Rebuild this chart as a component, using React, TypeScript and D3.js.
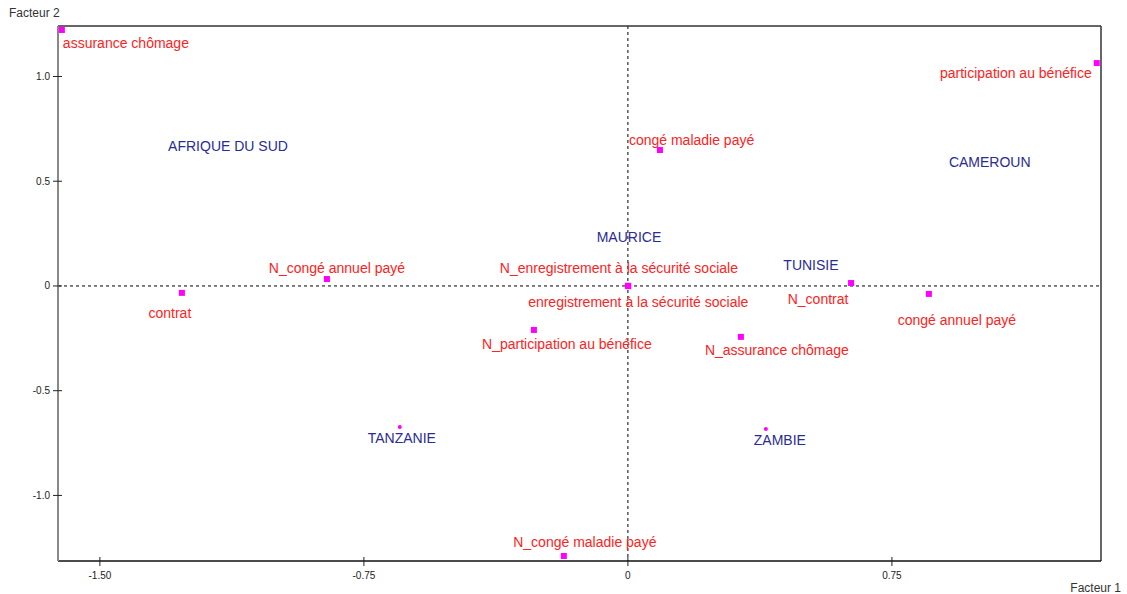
import React from "react";
import * as d3 from "d3";

// Correspondence analysis map: factor 1 (x) vs factor 2 (y)
const modalityNames = [
  "assurance chômage",
  "participation au bénéfice",
  "congé maladie payé",
  "N_congé annuel payé",
  "contrat",
  "N_enregistrement à la sécurité sociale",
  "enregistrement à la sécurité sociale",
  "N_participation au bénéfice",
  "N_contrat",
  "congé annuel payé",
  "N_assurance chômage",
  "N_congé maladie payé",
];
const modalityF1 = [-1.608, 1.332, 0.091, -0.855, -1.267, 0.0, 0.001, -0.267, 0.634, 0.855, 0.321, -0.182];
const modalityF2 = [1.222, 1.064, 0.649, 0.033, -0.033, 0.001, -0.001, -0.21, 0.014, -0.038, -0.243, -1.289];

const countryNames = ["AFRIQUE DU SUD", "CAMEROUN", "MAURICE", "TUNISIE", "TANZANIE", "ZAMBIE"];
const countryF1 = [-1.136, 1.028, 0.003, 0.52, -0.648, 0.392];
const countryF2 = [0.668, 0.592, 0.234, 0.1, -0.673, -0.683];

const xTicks = [-1.5, -0.75, 0, 0.75];
const xTickLabels = ["-1.50", "-0.75", "0", "0.75"];
const yTicks = [1.0, 0.5, 0, -0.5, -1.0];
const yTickLabels = ["1.0", "0.5", "0", "-0.5", "-1.0"];

// label placement relative to each marker (pixels)
const modalityLabelLayout: { anchor: string; dx: number; dy: number }[] = [
  { anchor: "start", dx: 1, dy: 18 },
  { anchor: "end", dx: -5, dy: 15 },
  { anchor: "start", dx: -31, dy: -5 },
  { anchor: "middle", dx: 10, dy: -6 },
  { anchor: "middle", dx: -12, dy: 25 },
  { anchor: "middle", dx: -9, dy: -13 },
  { anchor: "middle", dx: 10, dy: 21 },
  { anchor: "middle", dx: 33, dy: 19 },
  { anchor: "middle", dx: -33, dy: 21 },
  { anchor: "middle", dx: 28, dy: 31 },
  { anchor: "middle", dx: 36, dy: 18 },
  { anchor: "middle", dx: 21, dy: -9 },
];
const countryLabelLayout: { dx: number; dy: number; dot: boolean }[] = [
  { dx: 0, dy: 5, dot: false },
  { dx: 0, dy: 5, dot: false },
  { dx: 0, dy: 5, dot: false },
  { dx: 0, dy: 5, dot: false },
  { dx: 2, dy: 16, dot: true },
  { dx: 14, dy: 16, dot: true },
];

const W = 1127;
const H = 594;
const left = 58;
const right = 1101;
const top = 26;
const bottom = 561;

const FONT = "'Liberation Sans', Arial, sans-serif";
const RED = "#ff2222";
const NAVY = "#2b2b94";
const MAGENTA = "#ff00ff";

export default function App() {
  const x = d3.scaleLinear().domain([-1.619, 1.344]).range([left, right]);
  const y = d3.scaleLinear().domain([-1.313, 1.241]).range([bottom, top]);

  return (
    <svg
      width={W}
      height={H}
      style={{ position: "absolute", left: 0, top: 0, background: "#fff" }}
      fontFamily={FONT}
    >
      {/* origin reference lines */}
      <line x1={x(0)} x2={x(0)} y1={top} y2={bottom} stroke="#000" strokeDasharray="3,3" strokeWidth={1} />
      <line x1={left} x2={right} y1={y(0)} y2={y(0)} stroke="#000" strokeDasharray="3,3" strokeWidth={1} />

      {/* frame */}
      <line x1={left} x2={right} y1={top} y2={top} stroke="#333" strokeWidth={1.5} />
      <line x1={right} x2={right} y1={top} y2={bottom} stroke="#333" strokeWidth={1.5} />
      <line x1={left} x2={right} y1={bottom} y2={bottom} stroke="#111" strokeWidth={1.5} />
      <line x1={left} x2={left} y1={top} y2={bottom} stroke="#888" strokeWidth={2} />

      {/* y axis ticks */}
      {yTicks.map((t, i) => (
        <g key={"yt" + i}>
          <line x1={left - 5} x2={left + 4} y1={y(t)} y2={y(t)} stroke="#222" strokeWidth={1} />
          <text x={left - 8} y={y(t) + 3.5} fontSize={10} textAnchor="end" fill="#222">
            {yTickLabels[i]}
          </text>
        </g>
      ))}
      {/* x axis ticks */}
      {xTicks.map((t, i) => (
        <g key={"xt" + i}>
          <line x1={x(t)} x2={x(t)} y1={bottom - 4} y2={bottom + 5} stroke="#222" strokeWidth={1} />
          <text x={x(t)} y={bottom + 18} fontSize={10} textAnchor="middle" fill="#222">
            {xTickLabels[i]}
          </text>
        </g>
      ))}

      <text x={9} y={17} fontSize={12} fill="#333">Facteur 2</text>
      <text x={1121} y={592} fontSize={12} fill="#333" textAnchor="end">Facteur 1</text>

      {/* modalities */}
      {modalityNames.map((name, i) => {
        const px = x(modalityF1[i]);
        const py = y(modalityF2[i]);
        const l = modalityLabelLayout[i];
        return (
          <g key={"m" + i}>
            <rect x={px - 3} y={py - 3} width={6} height={6} fill={MAGENTA} />
            <text x={px + l.dx} y={py + l.dy} fontSize={14} fill={RED} textAnchor={l.anchor}>
              {name}
            </text>
          </g>
        );
      })}

      {/* countries */}
      {countryNames.map((name, i) => {
        const px = x(countryF1[i]);
        const py = y(countryF2[i]);
        const l = countryLabelLayout[i];
        return (
          <g key={"c" + i}>
            {l.dot && <circle cx={px} cy={py} r={2} fill={MAGENTA} />}
            <text x={px + l.dx} y={py + l.dy} fontSize={14} fill={NAVY} textAnchor="middle">
              {name}
            </text>
          </g>
        );
      })}
    </svg>
  );
}
